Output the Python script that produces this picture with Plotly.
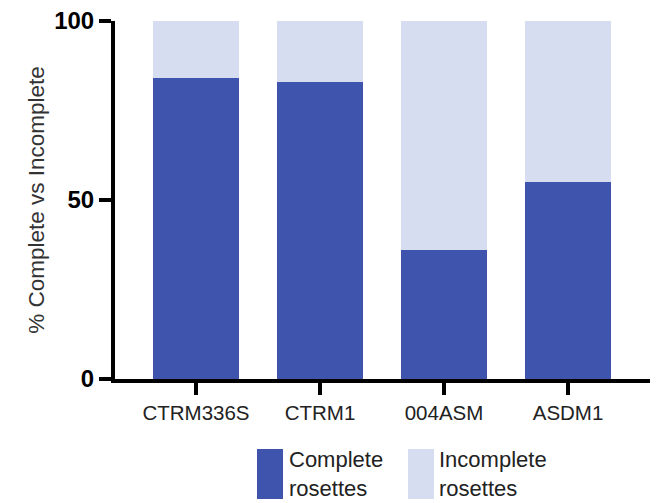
import plotly.graph_objects as go

categories = ["CTRM336S", "CTRM1", "004ASM", "ASDM1"]
complete = [84, 83, 36, 55]
incomplete = [16, 17, 64, 45]
series_names = ["Complete<br>rosettes", "Incomplete<br>rosettes"]
y_ticks = [0, 50, 100]

dark = "#3F55AD"
light = "#D7DDF1"

fig = go.Figure()
fig.add_trace(go.Bar(x=categories, y=complete, name="Complete rosettes",
                     marker=dict(color=dark, line=dict(width=0)), width=0.7))
fig.add_trace(go.Bar(x=categories, y=incomplete, name="Incomplete rosettes",
                     marker=dict(color=light, line=dict(width=0)), width=0.7))

OFF = 8  # page body margin
W, H = 663 - OFF, 503 - OFF
# desired plot area in screen pixels
sx0, sx1, sy0, sy1 = 115, 650, 21, 379
L, T = sx0 - OFF, sy0 - OFF
R = W - (sx1 - OFF)
B = H - (sy1 - OFF)
pw, ph = sx1 - sx0, sy1 - sy0

def px(x):
    return (x - sx0) / pw

def py(y):
    return (sy1 - y) / ph

fig.update_layout(
    barmode="stack",
    width=W, height=H,
    margin=dict(l=L, r=R, t=T, b=B, autoexpand=False),
    plot_bgcolor="white", paper_bgcolor="white",
    showlegend=False,
    font=dict(family="Liberation Sans, Arial, sans-serif", color="#222"),
    xaxis=dict(
        range=[-0.653, 3.661], showgrid=False, zeroline=False, automargin=False,
        showline=True, linecolor="black", linewidth=4,
        ticks="outside", ticklen=12, tickwidth=4, tickcolor="black",
        tickfont=dict(size=20.5, color="#222"),
    ),
    yaxis=dict(
        range=[0, 100], tickvals=y_ticks, showgrid=False, zeroline=False, automargin=False,
        showline=True, linecolor="black", linewidth=4, ticklabeloverflow="allow",
        ticks="outside", ticklen=12, tickwidth=4, tickcolor="black",
        tickfont=dict(size=24, color="black", family="Liberation Sans, Arial, sans-serif", weight="bold"),
        title=dict(text="% Complete vs Incomplete", font=dict(size=22.5, color="#333"), standoff=4),
    ),
)

colors = [dark, light]
sw_x = [257, 408]
txt_x = [287, 437]
for i in range(2):
    fig.add_shape(type="rect", xref="paper", yref="paper",
                  x0=px(sw_x[i]), x1=px(sw_x[i] + 26), y0=py(499), y1=py(449),
                  fillcolor=colors[i], line=dict(width=0))
    fig.add_annotation(xref="paper", yref="paper", x=px(txt_x[i]), y=py(474),
                       xanchor="left", yanchor="middle", align="left",
                       text=series_names[i], showarrow=False,
                       font=dict(size=22, color="#222"))

fig.write_html("out.html")
